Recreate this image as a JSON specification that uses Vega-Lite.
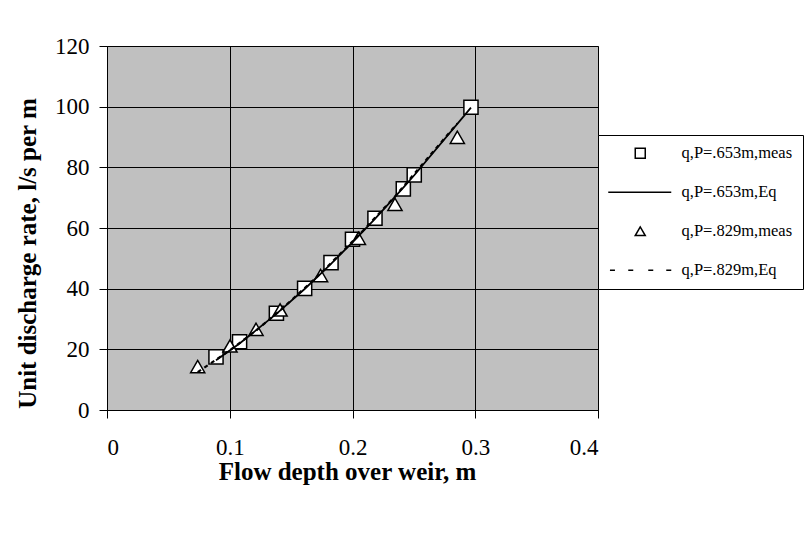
{
  "$schema": "https://vega.github.io/schema/vega-lite/v6.json",
  "width": 491,
  "height": 364,
  "autosize": "none",
  "padding": {"left": 107, "top": 46, "right": 206, "bottom": 123},
  "background": "white",
  "config": {
    "font": "Liberation Serif",
    "view": {"fill": "#C0C0C0", "stroke": "#808080", "strokeWidth": 1},
    "axis": {
      "domainColor": "black", "tickColor": "black", "gridColor": "black", "gridOpacity": 1, "gridWidth": 1,
      "labelFont": "Liberation Serif", "labelColor": "black",
      "titleFont": "Liberation Serif", "titleFontWeight": "bold", "titleColor": "black",
      "tickSize": 8
    }
  },
  "data": {"values": [
    {"series": "q,P=.653m,meas", "h": 0.0888, "q": 17.5},
    {"series": "q,P=.653m,meas", "h": 0.108, "q": 22.5},
    {"series": "q,P=.653m,meas", "h": 0.138, "q": 31.9},
    {"series": "q,P=.653m,meas", "h": 0.161, "q": 40.1},
    {"series": "q,P=.653m,meas", "h": 0.1825, "q": 48.6},
    {"series": "q,P=.653m,meas", "h": 0.200, "q": 56.3},
    {"series": "q,P=.653m,meas", "h": 0.2183, "q": 63.2},
    {"series": "q,P=.653m,meas", "h": 0.2414, "q": 72.9},
    {"series": "q,P=.653m,meas", "h": 0.2503, "q": 77.5},
    {"series": "q,P=.653m,meas", "h": 0.2965, "q": 99.8},
    {"series": "q,P=.653m,Eq", "h": 0.0888, "q": 16.4},
    {"series": "q,P=.653m,Eq", "h": 0.108, "q": 21.9},
    {"series": "q,P=.653m,Eq", "h": 0.138, "q": 31.7},
    {"series": "q,P=.653m,Eq", "h": 0.161, "q": 39.9},
    {"series": "q,P=.653m,Eq", "h": 0.1825, "q": 48.2},
    {"series": "q,P=.653m,Eq", "h": 0.200, "q": 55.3},
    {"series": "q,P=.653m,Eq", "h": 0.2183, "q": 63.0},
    {"series": "q,P=.653m,Eq", "h": 0.2414, "q": 73.3},
    {"series": "q,P=.653m,Eq", "h": 0.2503, "q": 77.4},
    {"series": "q,P=.653m,Eq", "h": 0.2965, "q": 99.7},
    {"series": "q,P=.829m,meas", "h": 0.0739, "q": 14.3},
    {"series": "q,P=.829m,meas", "h": 0.1002, "q": 21.1},
    {"series": "q,P=.829m,meas", "h": 0.1214, "q": 26.6},
    {"series": "q,P=.829m,meas", "h": 0.141, "q": 33.0},
    {"series": "q,P=.829m,meas", "h": 0.174, "q": 44.3},
    {"series": "q,P=.829m,meas", "h": 0.2048, "q": 56.6},
    {"series": "q,P=.829m,meas", "h": 0.2346, "q": 67.8},
    {"series": "q,P=.829m,meas", "h": 0.2854, "q": 89.9},
    {"series": "q,P=.829m,Eq", "h": 0.0739, "q": 12.5},
    {"series": "q,P=.829m,Eq", "h": 0.1002, "q": 19.7},
    {"series": "q,P=.829m,Eq", "h": 0.1214, "q": 26.2},
    {"series": "q,P=.829m,Eq", "h": 0.141, "q": 32.8},
    {"series": "q,P=.829m,Eq", "h": 0.174, "q": 45.0},
    {"series": "q,P=.829m,Eq", "h": 0.2048, "q": 57.5},
    {"series": "q,P=.829m,Eq", "h": 0.2346, "q": 70.4},
    {"series": "q,P=.829m,Eq", "h": 0.2854, "q": 94.5}
  ]},
  "encoding": {
    "x": {"field": "h", "type": "quantitative",
      "scale": {"domain": [0, 0.4], "nice": false, "zero": true},
      "axis": {"title": "Flow depth over weir, m", "values": [0, 0.1, 0.2, 0.3, 0.4],
        "labelExpr": "datum.value == 0 ? '0' : format(datum.value, '.1f')",
        "labelFontSize": 23, "titleFontSize": 25,
        "labelPadding": 18, "titlePadding": 0, "titleX": 240, "grid": true}},
    "y": {"field": "q", "type": "quantitative",
      "scale": {"domain": [0, 120], "nice": false},
      "axis": {"title": "Unit discharge rate, l/s per m", "values": [0, 20, 40, 60, 80, 100, 120],
        "labelFontSize": 23, "titleFontSize": 25,
        "labelPadding": 10, "titleX": -80, "titleY": 207, "titleBaseline": "middle", "grid": true}}
  },
  "layer": [
    {
      "transform": [{"filter": {"field": "series", "oneOf": ["q,P=.653m,meas", "q,P=.829m,meas"]}}],
      "mark": {"type": "point", "fill": "white", "stroke": "black", "strokeWidth": 1.5, "size": 200, "opacity": 1},
      "encoding": {
        "shape": {"field": "series", "type": "nominal",
          "scale": {
            "domain": ["q,P=.653m,meas", "q,P=.653m,Eq", "q,P=.829m,meas", "q,P=.829m,Eq"],
            "range": ["square", "M-6.4,0H6.2", "triangle-up", "M-6.06,0H-5.06M-2.4,0H-1.4M1.6,0H2.6M5.2,0H6.2"]
          },
          "legend": {
            "title": null, "orient": "none", "legendX": 491, "legendY": 89,
            "fillColor": "white", "strokeColor": "black", "padding": 10,
            "symbolOffset": 24, "labelOffset": 33, "rowPadding": 22,
            "labelFont": "Liberation Serif", "labelFontSize": 16.5, "labelColor": "black", "labelLimit": 300
          }
        }
      }
    },
    {
      "transform": [{"filter": {"field": "series", "equal": "q,P=.653m,Eq"}}],
      "mark": {"type": "line", "color": "black", "strokeWidth": 1.8}
    },
    {
      "transform": [{"filter": {"field": "series", "equal": "q,P=.829m,Eq"}}],
      "mark": {"type": "line", "color": "black", "strokeWidth": 2.2, "strokeDash": [4, 4]}
    }
  ]
}
